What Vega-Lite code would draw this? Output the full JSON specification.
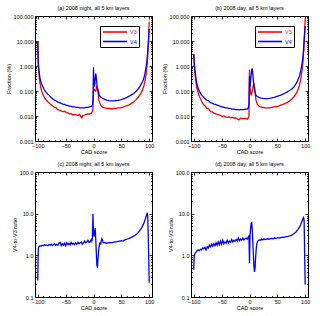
{
"$schema": "https://vega.github.io/schema/vega-lite/v6.json",
"padding": {"left": 5, "top": 5, "right": 5, "bottom": 5},
"config": {"font": "Liberation Sans", "view": {"stroke": "black", "strokeWidth": 1}, "axis": {"labelColor": "black", "titleColor": "black", "tickColor": "black", "grid": false, "domain": false, "labelFontSize": 5.5, "titleFontSize": 5.5, "titleFontWeight": "normal", "tickWidth": 0.8}, "title": {"fontSize": 5.5, "fontWeight": "normal", "offset": 3, "color": "black"}, "legend": {"orient": "none", "legendX": 65, "legendY": 10, "title": null, "strokeColor": "black", "fillColor": "white", "padding": 2, "symbolType": "M-1,0H7", "symbolSize": 36, "symbolStrokeWidth": 1.6, "labelFontSize": 5.5, "labelOffset": 20, "rowPadding": 1.5}},
"resolve": {"scale": {"color": "independent"}, "legend": {"color": "independent"}},
"columns": 2,
"spacing": {"row": 31, "column": 39},
"bounds": "flush",
"datasets": {
"a": [
{"cad":-100,"v":10,"s":"V3"},{"cad":-99.5,"v":2.5,"s":"V3"},{"cad":-99,"v":1.0,"s":"V3"},{"cad":-98,"v":0.5,"s":"V3"},{"cad":-97,"v":0.3,"s":"V3"},{"cad":-96,"v":0.2,"s":"V3"},{"cad":-95,"v":0.15,"s":"V3"},{"cad":-93,"v":0.1,"s":"V3"},{"cad":-91,"v":0.075,"s":"V3"},{"cad":-89,"v":0.06,"s":"V3"},{"cad":-87,"v":0.05,"s":"V3"},{"cad":-85,"v":0.044,"s":"V3"},{"cad":-82,"v":0.037,"s":"V3"},{"cad":-79,"v":0.032,"s":"V3"},{"cad":-76,"v":0.028,"s":"V3"},{"cad":-73,"v":0.025,"s":"V3"},{"cad":-70,"v":0.022,"s":"V3"},{"cad":-67,"v":0.021,"s":"V3"},{"cad":-64,"v":0.018,"s":"V3"},{"cad":-61,"v":0.0172,"s":"V3"},{"cad":-58,"v":0.016,"s":"V3"},{"cad":-55,"v":0.015,"s":"V3"},{"cad":-52,"v":0.0155,"s":"V3"},{"cad":-49,"v":0.014,"s":"V3"},{"cad":-46,"v":0.0135,"s":"V3"},{"cad":-43,"v":0.012,"s":"V3"},{"cad":-40,"v":0.0125,"s":"V3"},{"cad":-37,"v":0.011,"s":"V3"},{"cad":-34,"v":0.0115,"s":"V3"},{"cad":-31,"v":0.011,"s":"V3"},{"cad":-28,"v":0.0105,"s":"V3"},{"cad":-25,"v":0.0115,"s":"V3"},{"cad":-23,"v":0.0095,"s":"V3"},{"cad":-21,"v":0.0085,"s":"V3"},{"cad":-19,"v":0.0105,"s":"V3"},{"cad":-16,"v":0.0108,"s":"V3"},{"cad":-13,"v":0.0115,"s":"V3"},{"cad":-10,"v":0.012,"s":"V3"},{"cad":-7,"v":0.012,"s":"V3"},{"cad":-4,"v":0.013,"s":"V3"},{"cad":-2,"v":0.015,"s":"V3"},{"cad":-1,"v":0.02,"s":"V3"},{"cad":0,"v":0.1,"s":"V3"},{"cad":1,"v":0.12,"s":"V3"},{"cad":2,"v":0.11,"s":"V3"},{"cad":3,"v":0.1,"s":"V3"},{"cad":4,"v":0.1,"s":"V3"},{"cad":5,"v":0.12,"s":"V3"},{"cad":6,"v":0.15,"s":"V3"},{"cad":7,"v":0.14,"s":"V3"},{"cad":8,"v":0.1,"s":"V3"},{"cad":9,"v":0.06,"s":"V3"},{"cad":10,"v":0.04,"s":"V3"},{"cad":12,"v":0.03,"s":"V3"},{"cad":14,"v":0.025,"s":"V3"},{"cad":17,"v":0.022,"s":"V3"},{"cad":20,"v":0.021,"s":"V3"},{"cad":24,"v":0.02,"s":"V3"},{"cad":28,"v":0.02,"s":"V3"},{"cad":32,"v":0.0195,"s":"V3"},{"cad":36,"v":0.02,"s":"V3"},{"cad":40,"v":0.02,"s":"V3"},{"cad":44,"v":0.021,"s":"V3"},{"cad":48,"v":0.021,"s":"V3"},{"cad":52,"v":0.022,"s":"V3"},{"cad":56,"v":0.024,"s":"V3"},{"cad":60,"v":0.026,"s":"V3"},{"cad":64,"v":0.028,"s":"V3"},{"cad":68,"v":0.032,"s":"V3"},{"cad":72,"v":0.036,"s":"V3"},{"cad":76,"v":0.044,"s":"V3"},{"cad":80,"v":0.055,"s":"V3"},{"cad":84,"v":0.075,"s":"V3"},{"cad":88,"v":0.11,"s":"V3"},{"cad":90,"v":0.15,"s":"V3"},{"cad":92,"v":0.22,"s":"V3"},{"cad":94,"v":0.4,"s":"V3"},{"cad":95,"v":0.6,"s":"V3"},{"cad":96,"v":1.0,"s":"V3"},{"cad":97,"v":2.0,"s":"V3"},{"cad":98,"v":5,"s":"V3"},{"cad":99,"v":15,"s":"V3"},{"cad":100,"v":60,"s":"V3"},
{"cad":-100,"v":10,"s":"V4"},{"cad":-99.5,"v":2.5,"s":"V4"},{"cad":-99,"v":1.2,"s":"V4"},{"cad":-98,"v":0.7,"s":"V4"},{"cad":-97,"v":0.45,"s":"V4"},{"cad":-96,"v":0.33,"s":"V4"},{"cad":-95,"v":0.26,"s":"V4"},{"cad":-93,"v":0.19,"s":"V4"},{"cad":-91,"v":0.15,"s":"V4"},{"cad":-89,"v":0.12,"s":"V4"},{"cad":-87,"v":0.1,"s":"V4"},{"cad":-85,"v":0.088,"s":"V4"},{"cad":-82,"v":0.075,"s":"V4"},{"cad":-79,"v":0.065,"s":"V4"},{"cad":-76,"v":0.055,"s":"V4"},{"cad":-73,"v":0.048,"s":"V4"},{"cad":-70,"v":0.043,"s":"V4"},{"cad":-67,"v":0.04,"s":"V4"},{"cad":-64,"v":0.036,"s":"V4"},{"cad":-61,"v":0.034,"s":"V4"},{"cad":-58,"v":0.032,"s":"V4"},{"cad":-55,"v":0.03,"s":"V4"},{"cad":-52,"v":0.029,"s":"V4"},{"cad":-49,"v":0.027,"s":"V4"},{"cad":-46,"v":0.026,"s":"V4"},{"cad":-43,"v":0.025,"s":"V4"},{"cad":-40,"v":0.024,"s":"V4"},{"cad":-37,"v":0.023,"s":"V4"},{"cad":-34,"v":0.023,"s":"V4"},{"cad":-31,"v":0.022,"s":"V4"},{"cad":-28,"v":0.022,"s":"V4"},{"cad":-25,"v":0.021,"s":"V4"},{"cad":-22,"v":0.021,"s":"V4"},{"cad":-19,"v":0.021,"s":"V4"},{"cad":-16,"v":0.021,"s":"V4"},{"cad":-13,"v":0.022,"s":"V4"},{"cad":-10,"v":0.022,"s":"V4"},{"cad":-7,"v":0.023,"s":"V4"},{"cad":-4,"v":0.024,"s":"V4"},{"cad":-2,"v":0.026,"s":"V4"},{"cad":-1,"v":0.04,"s":"V4"},{"cad":0,"v":0.9,"s":"V4"},{"cad":0.5,"v":0.35,"s":"V4"},{"cad":1,"v":0.2,"s":"V4"},{"cad":2,"v":0.15,"s":"V4"},{"cad":3,"v":0.3,"s":"V4"},{"cad":4,"v":0.5,"s":"V4"},{"cad":5,"v":0.35,"s":"V4"},{"cad":6,"v":0.2,"s":"V4"},{"cad":7,"v":0.13,"s":"V4"},{"cad":8,"v":0.11,"s":"V4"},{"cad":9,"v":0.09,"s":"V4"},{"cad":10,"v":0.07,"s":"V4"},{"cad":12,"v":0.06,"s":"V4"},{"cad":14,"v":0.055,"s":"V4"},{"cad":17,"v":0.05,"s":"V4"},{"cad":20,"v":0.046,"s":"V4"},{"cad":24,"v":0.043,"s":"V4"},{"cad":28,"v":0.041,"s":"V4"},{"cad":32,"v":0.04,"s":"V4"},{"cad":36,"v":0.04,"s":"V4"},{"cad":40,"v":0.041,"s":"V4"},{"cad":44,"v":0.042,"s":"V4"},{"cad":48,"v":0.044,"s":"V4"},{"cad":52,"v":0.047,"s":"V4"},{"cad":56,"v":0.051,"s":"V4"},{"cad":60,"v":0.056,"s":"V4"},{"cad":64,"v":0.062,"s":"V4"},{"cad":68,"v":0.07,"s":"V4"},{"cad":72,"v":0.08,"s":"V4"},{"cad":76,"v":0.095,"s":"V4"},{"cad":80,"v":0.12,"s":"V4"},{"cad":84,"v":0.16,"s":"V4"},{"cad":88,"v":0.24,"s":"V4"},{"cad":90,"v":0.3,"s":"V4"},{"cad":92,"v":0.45,"s":"V4"},{"cad":94,"v":0.8,"s":"V4"},{"cad":95,"v":1.1,"s":"V4"},{"cad":96,"v":1.7,"s":"V4"},{"cad":97,"v":3,"s":"V4"},{"cad":98,"v":6,"s":"V4"},{"cad":99,"v":12,"s":"V4"},{"cad":100,"v":30,"s":"V4"}
],
"b": [
{"cad":-100,"v":3,"s":"V3"},{"cad":-99.5,"v":1.8,"s":"V3"},{"cad":-99,"v":1.0,"s":"V3"},{"cad":-98,"v":0.55,"s":"V3"},{"cad":-97,"v":0.35,"s":"V3"},{"cad":-96,"v":0.22,"s":"V3"},{"cad":-95,"v":0.15,"s":"V3"},{"cad":-93,"v":0.1,"s":"V3"},{"cad":-91,"v":0.07,"s":"V3"},{"cad":-89,"v":0.055,"s":"V3"},{"cad":-87,"v":0.045,"s":"V3"},{"cad":-85,"v":0.035,"s":"V3"},{"cad":-82,"v":0.028,"s":"V3"},{"cad":-79,"v":0.024,"s":"V3"},{"cad":-76,"v":0.02,"s":"V3"},{"cad":-73,"v":0.019,"s":"V3"},{"cad":-70,"v":0.015,"s":"V3"},{"cad":-67,"v":0.0145,"s":"V3"},{"cad":-64,"v":0.013,"s":"V3"},{"cad":-61,"v":0.0125,"s":"V3"},{"cad":-58,"v":0.0115,"s":"V3"},{"cad":-55,"v":0.011,"s":"V3"},{"cad":-52,"v":0.0105,"s":"V3"},{"cad":-49,"v":0.0095,"s":"V3"},{"cad":-46,"v":0.01,"s":"V3"},{"cad":-43,"v":0.0093,"s":"V3"},{"cad":-40,"v":0.0088,"s":"V3"},{"cad":-37,"v":0.0092,"s":"V3"},{"cad":-34,"v":0.0085,"s":"V3"},{"cad":-31,"v":0.0088,"s":"V3"},{"cad":-28,"v":0.0082,"s":"V3"},{"cad":-25,"v":0.0085,"s":"V3"},{"cad":-22,"v":0.0078,"s":"V3"},{"cad":-19,"v":0.007,"s":"V3"},{"cad":-16,"v":0.0082,"s":"V3"},{"cad":-13,"v":0.008,"s":"V3"},{"cad":-10,"v":0.0078,"s":"V3"},{"cad":-7,"v":0.008,"s":"V3"},{"cad":-4,"v":0.0075,"s":"V3"},{"cad":-2,"v":0.0085,"s":"V3"},{"cad":-1,"v":0.01,"s":"V3"},{"cad":0,"v":0.7,"s":"V3"},{"cad":0.5,"v":0.3,"s":"V3"},{"cad":1,"v":0.15,"s":"V3"},{"cad":2,"v":0.08,"s":"V3"},{"cad":3,"v":0.07,"s":"V3"},{"cad":4,"v":0.08,"s":"V3"},{"cad":5,"v":0.1,"s":"V3"},{"cad":6,"v":0.13,"s":"V3"},{"cad":7,"v":0.17,"s":"V3"},{"cad":8,"v":0.2,"s":"V3"},{"cad":9,"v":0.15,"s":"V3"},{"cad":10,"v":0.09,"s":"V3"},{"cad":11,"v":0.055,"s":"V3"},{"cad":12,"v":0.04,"s":"V3"},{"cad":14,"v":0.03,"s":"V3"},{"cad":17,"v":0.025,"s":"V3"},{"cad":20,"v":0.023,"s":"V3"},{"cad":24,"v":0.022,"s":"V3"},{"cad":28,"v":0.021,"s":"V3"},{"cad":32,"v":0.021,"s":"V3"},{"cad":36,"v":0.021,"s":"V3"},{"cad":40,"v":0.022,"s":"V3"},{"cad":44,"v":0.023,"s":"V3"},{"cad":48,"v":0.024,"s":"V3"},{"cad":52,"v":0.025,"s":"V3"},{"cad":56,"v":0.027,"s":"V3"},{"cad":60,"v":0.029,"s":"V3"},{"cad":64,"v":0.032,"s":"V3"},{"cad":68,"v":0.035,"s":"V3"},{"cad":72,"v":0.04,"s":"V3"},{"cad":76,"v":0.048,"s":"V3"},{"cad":80,"v":0.06,"s":"V3"},{"cad":84,"v":0.08,"s":"V3"},{"cad":88,"v":0.13,"s":"V3"},{"cad":90,"v":0.18,"s":"V3"},{"cad":92,"v":0.3,"s":"V3"},{"cad":94,"v":0.6,"s":"V3"},{"cad":95,"v":0.9,"s":"V3"},{"cad":96,"v":1.5,"s":"V3"},{"cad":97,"v":3,"s":"V3"},{"cad":98,"v":8,"s":"V3"},{"cad":99,"v":25,"s":"V3"},{"cad":100,"v":80,"s":"V3"},
{"cad":-100,"v":3,"s":"V4"},{"cad":-99.5,"v":2,"s":"V4"},{"cad":-99,"v":1.2,"s":"V4"},{"cad":-98,"v":0.7,"s":"V4"},{"cad":-97,"v":0.45,"s":"V4"},{"cad":-96,"v":0.3,"s":"V4"},{"cad":-95,"v":0.22,"s":"V4"},{"cad":-93,"v":0.15,"s":"V4"},{"cad":-91,"v":0.11,"s":"V4"},{"cad":-89,"v":0.09,"s":"V4"},{"cad":-87,"v":0.075,"s":"V4"},{"cad":-85,"v":0.065,"s":"V4"},{"cad":-82,"v":0.055,"s":"V4"},{"cad":-79,"v":0.048,"s":"V4"},{"cad":-76,"v":0.042,"s":"V4"},{"cad":-73,"v":0.04,"s":"V4"},{"cad":-70,"v":0.034,"s":"V4"},{"cad":-67,"v":0.033,"s":"V4"},{"cad":-64,"v":0.03,"s":"V4"},{"cad":-61,"v":0.029,"s":"V4"},{"cad":-58,"v":0.027,"s":"V4"},{"cad":-55,"v":0.026,"s":"V4"},{"cad":-52,"v":0.024,"s":"V4"},{"cad":-49,"v":0.023,"s":"V4"},{"cad":-46,"v":0.022,"s":"V4"},{"cad":-43,"v":0.021,"s":"V4"},{"cad":-40,"v":0.021,"s":"V4"},{"cad":-37,"v":0.02,"s":"V4"},{"cad":-34,"v":0.02,"s":"V4"},{"cad":-31,"v":0.019,"s":"V4"},{"cad":-28,"v":0.019,"s":"V4"},{"cad":-25,"v":0.018,"s":"V4"},{"cad":-22,"v":0.018,"s":"V4"},{"cad":-19,"v":0.0175,"s":"V4"},{"cad":-16,"v":0.018,"s":"V4"},{"cad":-13,"v":0.018,"s":"V4"},{"cad":-10,"v":0.018,"s":"V4"},{"cad":-7,"v":0.019,"s":"V4"},{"cad":-4,"v":0.019,"s":"V4"},{"cad":-2,"v":0.021,"s":"V4"},{"cad":-1,"v":0.03,"s":"V4"},{"cad":0,"v":0.4,"s":"V4"},{"cad":0.5,"v":0.2,"s":"V4"},{"cad":1,"v":0.15,"s":"V4"},{"cad":2,"v":0.25,"s":"V4"},{"cad":3,"v":0.45,"s":"V4"},{"cad":4,"v":0.7,"s":"V4"},{"cad":5,"v":0.8,"s":"V4"},{"cad":6,"v":0.45,"s":"V4"},{"cad":7,"v":0.25,"s":"V4"},{"cad":8,"v":0.16,"s":"V4"},{"cad":9,"v":0.12,"s":"V4"},{"cad":10,"v":0.09,"s":"V4"},{"cad":11,"v":0.075,"s":"V4"},{"cad":12,"v":0.066,"s":"V4"},{"cad":14,"v":0.06,"s":"V4"},{"cad":17,"v":0.056,"s":"V4"},{"cad":20,"v":0.053,"s":"V4"},{"cad":24,"v":0.051,"s":"V4"},{"cad":28,"v":0.05,"s":"V4"},{"cad":32,"v":0.05,"s":"V4"},{"cad":36,"v":0.051,"s":"V4"},{"cad":40,"v":0.053,"s":"V4"},{"cad":44,"v":0.056,"s":"V4"},{"cad":48,"v":0.06,"s":"V4"},{"cad":52,"v":0.064,"s":"V4"},{"cad":56,"v":0.069,"s":"V4"},{"cad":60,"v":0.075,"s":"V4"},{"cad":64,"v":0.083,"s":"V4"},{"cad":68,"v":0.092,"s":"V4"},{"cad":72,"v":0.105,"s":"V4"},{"cad":76,"v":0.12,"s":"V4"},{"cad":80,"v":0.15,"s":"V4"},{"cad":84,"v":0.2,"s":"V4"},{"cad":88,"v":0.32,"s":"V4"},{"cad":90,"v":0.42,"s":"V4"},{"cad":92,"v":0.65,"s":"V4"},{"cad":94,"v":1.1,"s":"V4"},{"cad":95,"v":1.6,"s":"V4"},{"cad":96,"v":2.5,"s":"V4"},{"cad":97,"v":4.5,"s":"V4"},{"cad":98,"v":10,"s":"V4"},{"cad":99,"v":20,"s":"V4"},{"cad":100,"v":40,"s":"V4"}
],
"c": [
{"cad":-100,"v":0.25},{"cad":-99.5,"v":0.8},{"cad":-99,"v":1.5},{"cad":-98,"v":1.6},{"cad":-96,"v":1.7},{"cad":-94,"v":1.65},{"cad":-92,"v":1.75},{"cad":-90,"v":1.7},{"cad":-88,"v":1.8},{"cad":-86,"v":1.72},{"cad":-84,"v":1.78},{"cad":-82,"v":1.7},{"cad":-80,"v":1.82},{"cad":-78,"v":1.75},{"cad":-76,"v":1.85},{"cad":-74,"v":1.72},{"cad":-72,"v":1.8},{"cad":-70,"v":1.9},{"cad":-68,"v":1.72},{"cad":-66,"v":1.85},{"cad":-64,"v":1.75},{"cad":-62,"v":1.95},{"cad":-60,"v":2.05},{"cad":-58,"v":1.7},{"cad":-56,"v":1.9},{"cad":-54,"v":1.75},{"cad":-52,"v":1.95},{"cad":-50,"v":1.7},{"cad":-48,"v":2.0},{"cad":-46,"v":1.8},{"cad":-44,"v":1.95},{"cad":-42,"v":1.78},{"cad":-40,"v":2.05},{"cad":-38,"v":1.85},{"cad":-36,"v":1.95},{"cad":-34,"v":1.8},{"cad":-32,"v":2.0},{"cad":-30,"v":1.85},{"cad":-28,"v":2.05},{"cad":-26,"v":1.9},{"cad":-24,"v":2.0},{"cad":-22,"v":2.1},{"cad":-20,"v":1.85},{"cad":-18,"v":2.0},{"cad":-16,"v":2.2},{"cad":-14,"v":2.0},{"cad":-12,"v":2.1},{"cad":-10,"v":2.3},{"cad":-8,"v":2.05},{"cad":-6,"v":2.1},{"cad":-4,"v":2.4},{"cad":-3,"v":2.2},{"cad":-2,"v":2.5},{"cad":-1,"v":10},{"cad":0,"v":3.5},{"cad":1,"v":2.8},{"cad":2,"v":3.5},{"cad":3,"v":4.5},{"cad":4,"v":2.5},{"cad":5,"v":1.2},{"cad":6,"v":0.6},{"cad":7,"v":0.5},{"cad":8,"v":0.8},{"cad":9,"v":1.2},{"cad":10,"v":1.6},{"cad":11,"v":1.9},{"cad":12,"v":2.0},{"cad":13,"v":1.9},{"cad":14,"v":2.2},{"cad":15,"v":2.5},{"cad":16,"v":2.4},{"cad":17,"v":2.1},{"cad":18,"v":2.0},{"cad":20,"v":2.05},{"cad":23,"v":1.95},{"cad":26,"v":2.0},{"cad":29,"v":2.05},{"cad":32,"v":2.0},{"cad":35,"v":2.05},{"cad":38,"v":2.1},{"cad":41,"v":2.1},{"cad":44,"v":2.15},{"cad":47,"v":2.2},{"cad":50,"v":2.25},{"cad":53,"v":2.2},{"cad":56,"v":2.35},{"cad":59,"v":2.4},{"cad":62,"v":2.5},{"cad":65,"v":2.6},{"cad":68,"v":2.7},{"cad":71,"v":2.85},{"cad":74,"v":3.0},{"cad":77,"v":3.2},{"cad":80,"v":3.5},{"cad":83,"v":3.9},{"cad":86,"v":4.5},{"cad":89,"v":5.3},{"cad":91,"v":6.2},{"cad":93,"v":7.5},{"cad":95,"v":9},{"cad":96.5,"v":10.5},{"cad":97.5,"v":8},{"cad":98,"v":4},{"cad":99,"v":1},{"cad":100,"v":0.22}
],
"d": [
{"cad":-100,"v":0.45},{"cad":-99.5,"v":0.8},{"cad":-99,"v":1.0},{"cad":-98,"v":1.1},{"cad":-96,"v":1.2},{"cad":-94,"v":1.3},{"cad":-92,"v":1.35},{"cad":-90,"v":1.3},{"cad":-88,"v":1.4},{"cad":-86,"v":1.35},{"cad":-84,"v":1.5},{"cad":-82,"v":1.45},{"cad":-80,"v":1.55},{"cad":-78,"v":1.35},{"cad":-76,"v":1.6},{"cad":-74,"v":1.5},{"cad":-72,"v":1.75},{"cad":-70,"v":1.6},{"cad":-68,"v":1.85},{"cad":-66,"v":1.65},{"cad":-64,"v":1.9},{"cad":-62,"v":1.7},{"cad":-60,"v":2.0},{"cad":-58,"v":1.75},{"cad":-56,"v":2.1},{"cad":-54,"v":1.8},{"cad":-52,"v":2.2},{"cad":-50,"v":1.85},{"cad":-48,"v":2.3},{"cad":-46,"v":1.9},{"cad":-44,"v":2.1},{"cad":-42,"v":1.95},{"cad":-40,"v":2.3},{"cad":-38,"v":2.0},{"cad":-36,"v":2.2},{"cad":-34,"v":2.05},{"cad":-32,"v":2.4},{"cad":-30,"v":2.1},{"cad":-28,"v":2.3},{"cad":-26,"v":2.15},{"cad":-24,"v":2.4},{"cad":-22,"v":2.2},{"cad":-20,"v":2.6},{"cad":-18,"v":2.25},{"cad":-16,"v":2.45},{"cad":-14,"v":2.3},{"cad":-12,"v":2.6},{"cad":-10,"v":2.35},{"cad":-8,"v":2.5},{"cad":-6,"v":2.6},{"cad":-4,"v":2.45},{"cad":-2,"v":2.8},{"cad":-1,"v":2.9},{"cad":0,"v":0.65},{"cad":0.5,"v":1.5},{"cad":1,"v":3},{"cad":2,"v":4.5},{"cad":3,"v":5.8},{"cad":4,"v":6},{"cad":5,"v":4},{"cad":6,"v":2},{"cad":7,"v":1},{"cad":8,"v":0.55},{"cad":9,"v":0.4},{"cad":10,"v":0.5},{"cad":11,"v":0.9},{"cad":12,"v":1.4},{"cad":13,"v":1.8},{"cad":14,"v":2.1},{"cad":16,"v":2.3},{"cad":18,"v":2.35},{"cad":20,"v":2.3},{"cad":22,"v":2.45},{"cad":24,"v":2.35},{"cad":26,"v":2.5},{"cad":28,"v":2.4},{"cad":30,"v":2.45},{"cad":33,"v":2.5},{"cad":36,"v":2.45},{"cad":39,"v":2.55},{"cad":42,"v":2.5},{"cad":45,"v":2.6},{"cad":48,"v":2.55},{"cad":51,"v":2.65},{"cad":54,"v":2.6},{"cad":57,"v":2.7},{"cad":60,"v":2.7},{"cad":63,"v":2.75},{"cad":66,"v":2.8},{"cad":69,"v":2.85},{"cad":72,"v":2.95},{"cad":75,"v":3.0},{"cad":78,"v":3.2},{"cad":81,"v":3.4},{"cad":84,"v":3.7},{"cad":87,"v":4.2},{"cad":90,"v":4.8},{"cad":92,"v":5.5},{"cad":94,"v":6.5},{"cad":96,"v":7.5},{"cad":97,"v":8},{"cad":98,"v":7},{"cad":98.5,"v":3},{"cad":99,"v":1},{"cad":100,"v":0.2}
]
},
"concat": [
{
"width": 117, "height": 125,
"title": "(a) 2008 night, all 5 km layers",
"data": {"name": "a"},
"resolve": {"axis": {"x": "independent", "y": "independent"}},
"layer": [
{"mark": {"type": "line", "strokeWidth": 1.3, "clip": true},
 "encoding": {
  "x": {"field": "cad", "type": "quantitative", "scale": {"domain": [-105, 105], "nice": false, "zero": false}, "axis": {"orient": "bottom", "values": [-100, -50, 0, 50, 100], "ticks": false, "labelPadding": 2, "title": "CAD score", "titlePadding": 1}},
  "y": {"field": "v", "type": "quantitative", "scale": {"type": "log", "domain": [0.001, 100], "nice": false}, "axis": {"orient": "left", "values": [0.001, 0.01, 0.1, 1, 10, 100], "format": ".3f", "ticks": false, "labelPadding": 2, "title": "Fraction (%)", "titlePadding": 2}},
  "color": {"field": "s", "type": "nominal", "scale": {"domain": ["V3", "V4"], "range": ["#ff0000", "#0000ff"]}, "legend": {"legendX": 65, "labelColor": {"expr": "datum.value === 'V3' ? '#ff0000' : '#0000ff'"}}}
 }},
{"mark": {"type": "line", "opacity": 0},
 "encoding": {
  "x": {"field": "cad", "type": "quantitative", "scale": {"domain": [-105, 105], "nice": false, "zero": false}, "axis": {"orient": "bottom", "values": [-100, -50, 0, 50, 100], "labels": false, "tickSize": -3, "title": null}},
  "y": {"field": "v", "type": "quantitative", "scale": {"type": "log", "domain": [0.001, 100], "nice": false}, "axis": {"orient": "left", "values": [0.001, 0.01, 0.1, 1, 10, 100], "labels": false, "tickSize": -3, "title": null}},
  "detail": {"field": "s"}
 }},
{"mark": {"type": "line", "opacity": 0},
 "encoding": {
  "x": {"field": "cad", "type": "quantitative", "scale": {"domain": [-105, 105], "nice": false, "zero": false}, "axis": {"orient": "bottom", "values": [-90, -80, -70, -60, -40, -30, -20, -10, 10, 20, 30, 40, 60, 70, 80, 90], "labels": false, "tickSize": -1.5, "title": null}},
  "y": {"field": "v", "type": "quantitative", "scale": {"type": "log", "domain": [0.001, 100], "nice": false}, "axis": {"orient": "left", "values": [0.002, 0.003, 0.004, 0.005, 0.006, 0.007, 0.008, 0.009, 0.02, 0.03, 0.04, 0.05, 0.06, 0.07, 0.08, 0.09, 0.2, 0.3, 0.4, 0.5, 0.6, 0.7, 0.8, 0.9, 2, 3, 4, 5, 6, 7, 8, 9, 20, 30, 40, 50, 60, 70, 80, 90], "labels": false, "tickSize": -1.5, "title": null}},
  "detail": {"field": "s"}
 }},
{"mark": {"type": "line", "opacity": 0},
 "encoding": {
  "x": {"field": "cad", "type": "quantitative", "scale": {"domain": [-105, 105], "nice": false, "zero": false}, "axis": {"orient": "top", "values": [-100, -50, 0, 50, 100], "labels": false, "tickSize": -3, "title": null}},
  "y": {"field": "v", "type": "quantitative", "scale": {"type": "log", "domain": [0.001, 100], "nice": false}, "axis": {"orient": "right", "values": [0.001, 0.01, 0.1, 1, 10, 100], "labels": false, "tickSize": -3, "title": null}},
  "detail": {"field": "s"}
 }},
{"mark": {"type": "line", "opacity": 0},
 "encoding": {
  "x": {"field": "cad", "type": "quantitative", "scale": {"domain": [-105, 105], "nice": false, "zero": false}, "axis": {"orient": "top", "values": [-90, -80, -70, -60, -40, -30, -20, -10, 10, 20, 30, 40, 60, 70, 80, 90], "labels": false, "tickSize": -1.5, "title": null}},
  "y": {"field": "v", "type": "quantitative", "scale": {"type": "log", "domain": [0.001, 100], "nice": false}, "axis": {"orient": "right", "values": [0.002, 0.003, 0.004, 0.005, 0.006, 0.007, 0.008, 0.009, 0.02, 0.03, 0.04, 0.05, 0.06, 0.07, 0.08, 0.09, 0.2, 0.3, 0.4, 0.5, 0.6, 0.7, 0.8, 0.9, 2, 3, 4, 5, 6, 7, 8, 9, 20, 30, 40, 50, 60, 70, 80, 90], "labels": false, "tickSize": -1.5, "title": null}},
  "detail": {"field": "s"}
 }}
]
},
{
"width": 117, "height": 125,
"title": "(b) 2008 day, all 5 km layers",
"data": {"name": "b"},
"resolve": {"axis": {"x": "independent", "y": "independent"}},
"layer": [
{"mark": {"type": "line", "strokeWidth": 1.3, "clip": true},
 "encoding": {
  "x": {"field": "cad", "type": "quantitative", "scale": {"domain": [-105, 105], "nice": false, "zero": false}, "axis": {"orient": "bottom", "values": [-100, -50, 0, 50, 100], "ticks": false, "labelPadding": 2, "title": "CAD score", "titlePadding": 1}},
  "y": {"field": "v", "type": "quantitative", "scale": {"type": "log", "domain": [0.001, 100], "nice": false}, "axis": {"orient": "left", "values": [0.001, 0.01, 0.1, 1, 10, 100], "format": ".3f", "ticks": false, "labelPadding": 2, "title": "Fraction (%)", "titlePadding": 2}},
  "color": {"field": "s", "type": "nominal", "scale": {"domain": ["V3", "V4"], "range": ["#ff0000", "#0000ff"]}, "legend": {"legendX": 64, "labelColor": {"expr": "datum.value === 'V3' ? '#ff0000' : '#0000ff'"}}}
 }},
{"mark": {"type": "line", "opacity": 0},
 "encoding": {
  "x": {"field": "cad", "type": "quantitative", "scale": {"domain": [-105, 105], "nice": false, "zero": false}, "axis": {"orient": "bottom", "values": [-100, -50, 0, 50, 100], "labels": false, "tickSize": -3, "title": null}},
  "y": {"field": "v", "type": "quantitative", "scale": {"type": "log", "domain": [0.001, 100], "nice": false}, "axis": {"orient": "left", "values": [0.001, 0.01, 0.1, 1, 10, 100], "labels": false, "tickSize": -3, "title": null}},
  "detail": {"field": "s"}
 }},
{"mark": {"type": "line", "opacity": 0},
 "encoding": {
  "x": {"field": "cad", "type": "quantitative", "scale": {"domain": [-105, 105], "nice": false, "zero": false}, "axis": {"orient": "bottom", "values": [-90, -80, -70, -60, -40, -30, -20, -10, 10, 20, 30, 40, 60, 70, 80, 90], "labels": false, "tickSize": -1.5, "title": null}},
  "y": {"field": "v", "type": "quantitative", "scale": {"type": "log", "domain": [0.001, 100], "nice": false}, "axis": {"orient": "left", "values": [0.002, 0.003, 0.004, 0.005, 0.006, 0.007, 0.008, 0.009, 0.02, 0.03, 0.04, 0.05, 0.06, 0.07, 0.08, 0.09, 0.2, 0.3, 0.4, 0.5, 0.6, 0.7, 0.8, 0.9, 2, 3, 4, 5, 6, 7, 8, 9, 20, 30, 40, 50, 60, 70, 80, 90], "labels": false, "tickSize": -1.5, "title": null}},
  "detail": {"field": "s"}
 }},
{"mark": {"type": "line", "opacity": 0},
 "encoding": {
  "x": {"field": "cad", "type": "quantitative", "scale": {"domain": [-105, 105], "nice": false, "zero": false}, "axis": {"orient": "top", "values": [-100, -50, 0, 50, 100], "labels": false, "tickSize": -3, "title": null}},
  "y": {"field": "v", "type": "quantitative", "scale": {"type": "log", "domain": [0.001, 100], "nice": false}, "axis": {"orient": "right", "values": [0.001, 0.01, 0.1, 1, 10, 100], "labels": false, "tickSize": -3, "title": null}},
  "detail": {"field": "s"}
 }},
{"mark": {"type": "line", "opacity": 0},
 "encoding": {
  "x": {"field": "cad", "type": "quantitative", "scale": {"domain": [-105, 105], "nice": false, "zero": false}, "axis": {"orient": "top", "values": [-90, -80, -70, -60, -40, -30, -20, -10, 10, 20, 30, 40, 60, 70, 80, 90], "labels": false, "tickSize": -1.5, "title": null}},
  "y": {"field": "v", "type": "quantitative", "scale": {"type": "log", "domain": [0.001, 100], "nice": false}, "axis": {"orient": "right", "values": [0.002, 0.003, 0.004, 0.005, 0.006, 0.007, 0.008, 0.009, 0.02, 0.03, 0.04, 0.05, 0.06, 0.07, 0.08, 0.09, 0.2, 0.3, 0.4, 0.5, 0.6, 0.7, 0.8, 0.9, 2, 3, 4, 5, 6, 7, 8, 9, 20, 30, 40, 50, 60, 70, 80, 90], "labels": false, "tickSize": -1.5, "title": null}},
  "detail": {"field": "s"}
 }}
]
},
{
"width": 117, "height": 125,
"title": "(c) 2008 night, all 5 km layers",
"data": {"name": "c"},
"resolve": {"axis": {"x": "independent", "y": "independent"}},
"layer": [
{"mark": {"type": "line", "strokeWidth": 1.3, "clip": true, "color": "#0000ff"},
 "encoding": {
  "x": {"field": "cad", "type": "quantitative", "scale": {"domain": [-105, 105], "nice": false, "zero": false}, "axis": {"orient": "bottom", "values": [-100, -50, 0, 50, 100], "ticks": false, "labelPadding": 2, "title": "CAD score", "titlePadding": 1}},
  "y": {"field": "v", "type": "quantitative", "scale": {"type": "log", "domain": [0.1, 100], "nice": false}, "axis": {"orient": "left", "values": [0.1, 1, 10, 100], "format": ".1f", "ticks": false, "labelPadding": 2, "title": "V4-to-V3 ratio", "titlePadding": 2}}
 }},
{"mark": {"type": "line", "opacity": 0},
 "encoding": {
  "x": {"field": "cad", "type": "quantitative", "scale": {"domain": [-105, 105], "nice": false, "zero": false}, "axis": {"orient": "bottom", "values": [-100, -50, 0, 50, 100], "labels": false, "tickSize": -3, "title": null}},
  "y": {"field": "v", "type": "quantitative", "scale": {"type": "log", "domain": [0.1, 100], "nice": false}, "axis": {"orient": "left", "values": [0.1, 1, 10, 100], "labels": false, "tickSize": -3, "title": null}}
 }},
{"mark": {"type": "line", "opacity": 0},
 "encoding": {
  "x": {"field": "cad", "type": "quantitative", "scale": {"domain": [-105, 105], "nice": false, "zero": false}, "axis": {"orient": "bottom", "values": [-90, -80, -70, -60, -40, -30, -20, -10, 10, 20, 30, 40, 60, 70, 80, 90], "labels": false, "tickSize": -1.5, "title": null}},
  "y": {"field": "v", "type": "quantitative", "scale": {"type": "log", "domain": [0.1, 100], "nice": false}, "axis": {"orient": "left", "values": [0.2, 0.3, 0.4, 0.5, 0.6, 0.7, 0.8, 0.9, 2, 3, 4, 5, 6, 7, 8, 9, 20, 30, 40, 50, 60, 70, 80, 90], "labels": false, "tickSize": -1.5, "title": null}}
 }},
{"mark": {"type": "line", "opacity": 0},
 "encoding": {
  "x": {"field": "cad", "type": "quantitative", "scale": {"domain": [-105, 105], "nice": false, "zero": false}, "axis": {"orient": "top", "values": [-100, -50, 0, 50, 100], "labels": false, "tickSize": -3, "title": null}},
  "y": {"field": "v", "type": "quantitative", "scale": {"type": "log", "domain": [0.1, 100], "nice": false}, "axis": {"orient": "right", "values": [0.1, 1, 10, 100], "labels": false, "tickSize": -3, "title": null}}
 }},
{"mark": {"type": "line", "opacity": 0},
 "encoding": {
  "x": {"field": "cad", "type": "quantitative", "scale": {"domain": [-105, 105], "nice": false, "zero": false}, "axis": {"orient": "top", "values": [-90, -80, -70, -60, -40, -30, -20, -10, 10, 20, 30, 40, 60, 70, 80, 90], "labels": false, "tickSize": -1.5, "title": null}},
  "y": {"field": "v", "type": "quantitative", "scale": {"type": "log", "domain": [0.1, 100], "nice": false}, "axis": {"orient": "right", "values": [0.2, 0.3, 0.4, 0.5, 0.6, 0.7, 0.8, 0.9, 2, 3, 4, 5, 6, 7, 8, 9, 20, 30, 40, 50, 60, 70, 80, 90], "labels": false, "tickSize": -1.5, "title": null}}
 }}
]
},
{
"width": 117, "height": 125,
"title": "(d) 2008 day, all 5 km layers",
"data": {"name": "d"},
"resolve": {"axis": {"x": "independent", "y": "independent"}},
"layer": [
{"mark": {"type": "line", "strokeWidth": 1.3, "clip": true, "color": "#0000ff"},
 "encoding": {
  "x": {"field": "cad", "type": "quantitative", "scale": {"domain": [-105, 105], "nice": false, "zero": false}, "axis": {"orient": "bottom", "values": [-100, -50, 0, 50, 100], "ticks": false, "labelPadding": 2, "title": "CAD score", "titlePadding": 1}},
  "y": {"field": "v", "type": "quantitative", "scale": {"type": "log", "domain": [0.1, 100], "nice": false}, "axis": {"orient": "left", "values": [0.1, 1, 10, 100], "format": ".1f", "ticks": false, "labelPadding": 2, "title": "V4-to-V3 ratio", "titlePadding": 2}}
 }},
{"mark": {"type": "line", "opacity": 0},
 "encoding": {
  "x": {"field": "cad", "type": "quantitative", "scale": {"domain": [-105, 105], "nice": false, "zero": false}, "axis": {"orient": "bottom", "values": [-100, -50, 0, 50, 100], "labels": false, "tickSize": -3, "title": null}},
  "y": {"field": "v", "type": "quantitative", "scale": {"type": "log", "domain": [0.1, 100], "nice": false}, "axis": {"orient": "left", "values": [0.1, 1, 10, 100], "labels": false, "tickSize": -3, "title": null}}
 }},
{"mark": {"type": "line", "opacity": 0},
 "encoding": {
  "x": {"field": "cad", "type": "quantitative", "scale": {"domain": [-105, 105], "nice": false, "zero": false}, "axis": {"orient": "bottom", "values": [-90, -80, -70, -60, -40, -30, -20, -10, 10, 20, 30, 40, 60, 70, 80, 90], "labels": false, "tickSize": -1.5, "title": null}},
  "y": {"field": "v", "type": "quantitative", "scale": {"type": "log", "domain": [0.1, 100], "nice": false}, "axis": {"orient": "left", "values": [0.2, 0.3, 0.4, 0.5, 0.6, 0.7, 0.8, 0.9, 2, 3, 4, 5, 6, 7, 8, 9, 20, 30, 40, 50, 60, 70, 80, 90], "labels": false, "tickSize": -1.5, "title": null}}
 }},
{"mark": {"type": "line", "opacity": 0},
 "encoding": {
  "x": {"field": "cad", "type": "quantitative", "scale": {"domain": [-105, 105], "nice": false, "zero": false}, "axis": {"orient": "top", "values": [-100, -50, 0, 50, 100], "labels": false, "tickSize": -3, "title": null}},
  "y": {"field": "v", "type": "quantitative", "scale": {"type": "log", "domain": [0.1, 100], "nice": false}, "axis": {"orient": "right", "values": [0.1, 1, 10, 100], "labels": false, "tickSize": -3, "title": null}}
 }},
{"mark": {"type": "line", "opacity": 0},
 "encoding": {
  "x": {"field": "cad", "type": "quantitative", "scale": {"domain": [-105, 105], "nice": false, "zero": false}, "axis": {"orient": "top", "values": [-90, -80, -70, -60, -40, -30, -20, -10, 10, 20, 30, 40, 60, 70, 80, 90], "labels": false, "tickSize": -1.5, "title": null}},
  "y": {"field": "v", "type": "quantitative", "scale": {"type": "log", "domain": [0.1, 100], "nice": false}, "axis": {"orient": "right", "values": [0.2, 0.3, 0.4, 0.5, 0.6, 0.7, 0.8, 0.9, 2, 3, 4, 5, 6, 7, 8, 9, 20, 30, 40, 50, 60, 70, 80, 90], "labels": false, "tickSize": -1.5, "title": null}}
 }}
]
}
]
}
